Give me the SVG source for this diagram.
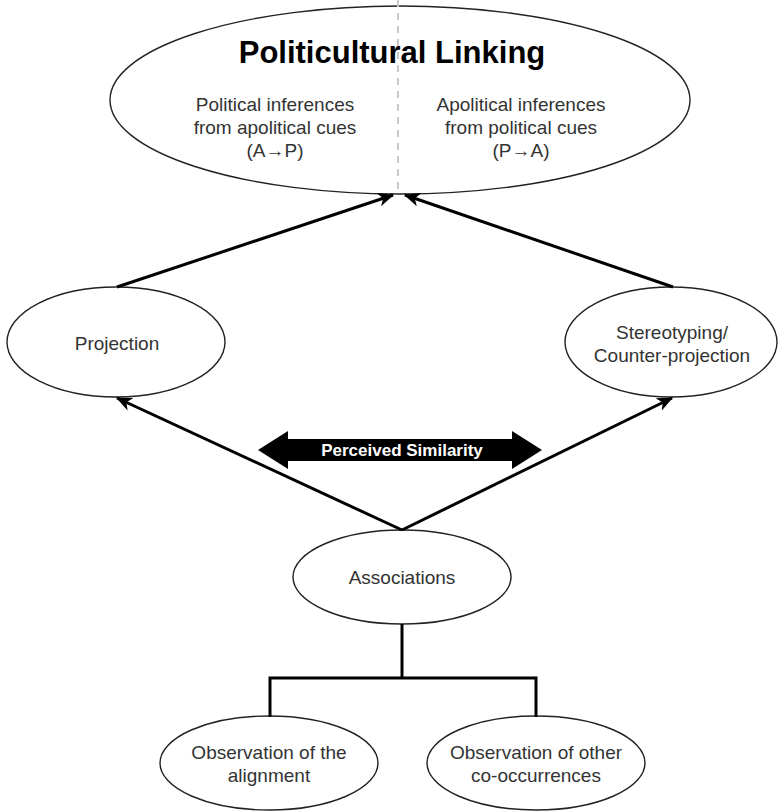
<svg xmlns="http://www.w3.org/2000/svg" width="779" height="811" viewBox="0 0 779 811">
<style>
.node ellipse{fill:#fff;stroke:#222;stroke-width:1.4}
.t{font-family:"Liberation Sans",Arial,sans-serif;font-size:19px;fill:#333;text-anchor:middle}
.title{font-family:"Liberation Sans",Arial,sans-serif;font-size:31px;font-weight:bold;fill:#000;text-anchor:middle}
.conn line,.conn polyline{stroke:#000;stroke-width:3;fill:none}
</style>
<defs>
<marker id="ah" viewBox="0 0 14 12" refX="13" refY="6" markerWidth="16" markerHeight="14" markerUnits="userSpaceOnUse" orient="auto">
<path d="M0,0 L14,6 L0,12 L4,6 z" fill="#000"/>
</marker>
</defs>
<rect width="779" height="811" fill="#fff"/>
<g id="top" class="node">
<ellipse cx="400" cy="100" rx="290" ry="94"/>
<line x1="398" y1="0" x2="398" y2="194" stroke="#c8c8c8" stroke-width="2" stroke-dasharray="7 6"/>
<text class="title" x="392" y="63">Politicultural Linking</text>
<text class="t" x="275" y="111">Political inferences</text>
<text class="t" x="275" y="134">from apolitical cues</text>
<text class="t" x="275" y="157">(A→P)</text>
<text class="t" x="521" y="111">Apolitical inferences</text>
<text class="t" x="521" y="134">from political cues</text>
<text class="t" x="521" y="157">(P→A)</text>
</g>
<g id="projection" class="node">
<ellipse cx="116" cy="342" rx="109" ry="55"/>
<text class="t" x="117" y="350">Projection</text>
</g>
<g id="stereotyping" class="node">
<ellipse cx="671" cy="342" rx="106" ry="55"/>
<text class="t" x="672" y="339">Stereotyping/</text>
<text class="t" x="672" y="362">Counter-projection</text>
</g>
<g id="associations" class="node">
<ellipse cx="402" cy="577" rx="109" ry="47"/>
<text class="t" x="402" y="584">Associations</text>
</g>
<g id="alignment" class="node">
<ellipse cx="269" cy="763" rx="109" ry="47"/>
<text class="t" x="269" y="759">Observation of the</text>
<text class="t" x="269" y="782">alignment</text>
</g>
<g id="cooccur" class="node">
<ellipse cx="536" cy="763" rx="109" ry="47"/>
<text class="t" x="536" y="759">Observation of other</text>
<text class="t" x="536" y="782">co-occurrences</text>
</g>
<g id="connectors" class="conn">
<line x1="117" y1="287" x2="393" y2="195" marker-end="url(#ah)"/>
<line x1="673" y1="287" x2="405" y2="195" marker-end="url(#ah)"/>
<line x1="402" y1="530" x2="117" y2="398" marker-end="url(#ah)"/>
<line x1="402" y1="530" x2="672" y2="398" marker-end="url(#ah)"/>
<polyline points="402,624 402,678"/>
<polyline points="270,717 270,678 536,678 536,717"/>
</g>
<g id="perceived-similarity">
<polygon points="258,450 288,431 288,439 512,439 512,431 542,450 512,469 512,461 288,461 288,469" fill="#000"/>
<text x="402" y="456" font-family="'Liberation Sans',Arial,sans-serif" font-size="17" font-weight="bold" fill="#fff" text-anchor="middle">Perceived Similarity</text>
</g>
</svg>
